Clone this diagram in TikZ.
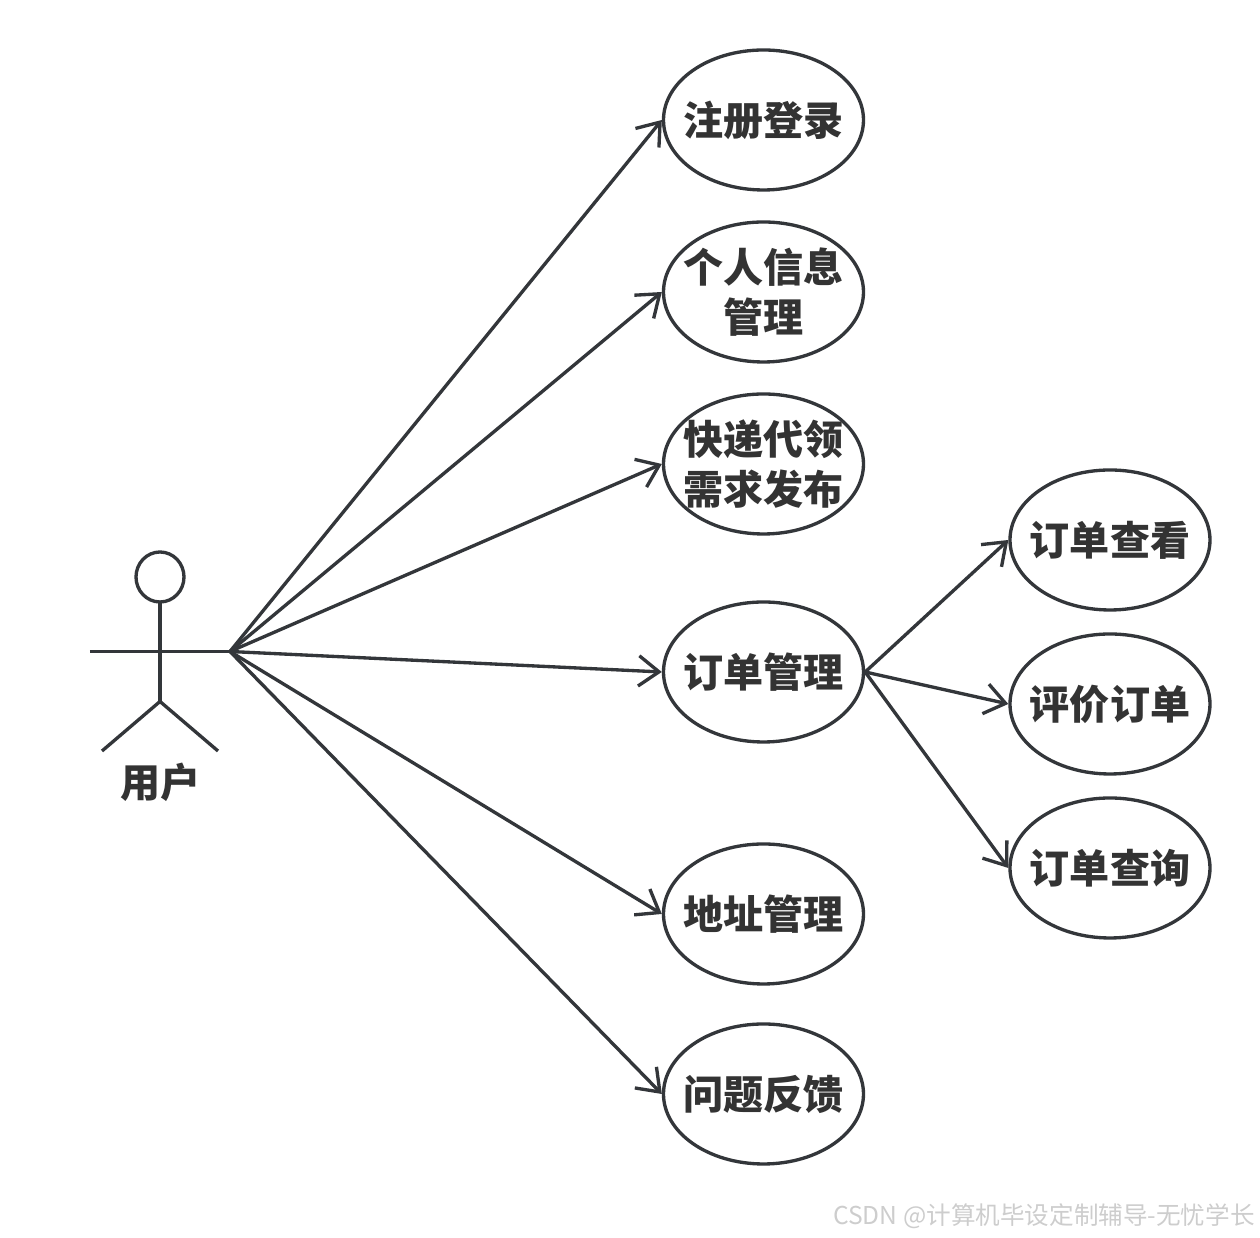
\documentclass[tikz,border=0pt]{standalone}
\usepackage{fontspec}
\setmainfont{Noto Sans CJK SC}
\usetikzlibrary{shapes.geometric, arrows.meta}
\definecolor{lineGray}{RGB}{51, 54, 58}
\definecolor{textGray}{RGB}{51, 51, 51}
\definecolor{markGray}{RGB}{205, 205, 205}
\tikzset{
  usecase/.style={ellipse, draw=lineGray, line width=0.95pt, minimum width=2cm, minimum height=1.4cm, inner xsep=-0.1cm, inner ysep=-0.05cm, align=center, text=textGray, font=\fontsize{11.4pt}{14.2pt}\selectfont\bfseries},
  link/.style={draw=lineGray, line width=0.95pt, -{Straight Barb[length=5.8pt, width=8.6pt, line width=0.95pt]}}
}

\begin{document}
\begin{tikzpicture}
  \useasboundingbox (0,0) rectangle (12.6,12.38);
  % actor
  \draw[lineGray, line width=0.95pt] (1.6,6.61) ellipse (0.24 and 0.25);
  \draw[lineGray, line width=0.95pt] (1.6,6.36) -- (1.6,5.365);
  \draw[lineGray, line width=0.95pt] (1.02,4.87) -- (1.6,5.365) -- (2.18,4.87);
  \coordinate (handL) at (0.9,5.865);
  \coordinate (handR) at (2.3,5.865);
  \draw[lineGray, line width=0.95pt] (handL) -- (handR);
  \node[text=textGray, font=\fontsize{11.4pt}{14.2pt}\selectfont\bfseries] (user) at (1.605,4.56) {用户};
  % use cases
  \node[usecase] (login) at (7.635,11.18) {注册登录};
  \node[usecase] (info) at (7.635,9.46) {个人信息\\管理};
  \node[usecase] (publish) at (7.635,7.74) {快递代领\\需求发布};
  \node[usecase] (order) at (7.635,5.66) {订单管理};
  \node[usecase] (address) at (7.635,3.24) {地址管理};
  \node[usecase] (feedback) at (7.635,1.44) {问题反馈};
  \node[usecase] (view) at (11.1,6.98) {订单查看};
  \node[usecase] (rate) at (11.1,5.34) {评价订单};
  \node[usecase] (search) at (11.1,3.7) {订单查询};
  % links
  \foreach \target in {login, info, publish, order, address, feedback}
    \draw[link] (handR) -- (\target.west);
  \foreach \target in {view, rate, search}
    \draw[link] (order.east) -- (\target.west);
  \node[anchor=east, inner sep=0pt, text=markGray, font=\fontsize{7pt}{8pt}\selectfont] (mark) at (12.555,0.22) {CSDN @计算机毕设定制辅导-无忧学长};
\end{tikzpicture}
\end{document}
